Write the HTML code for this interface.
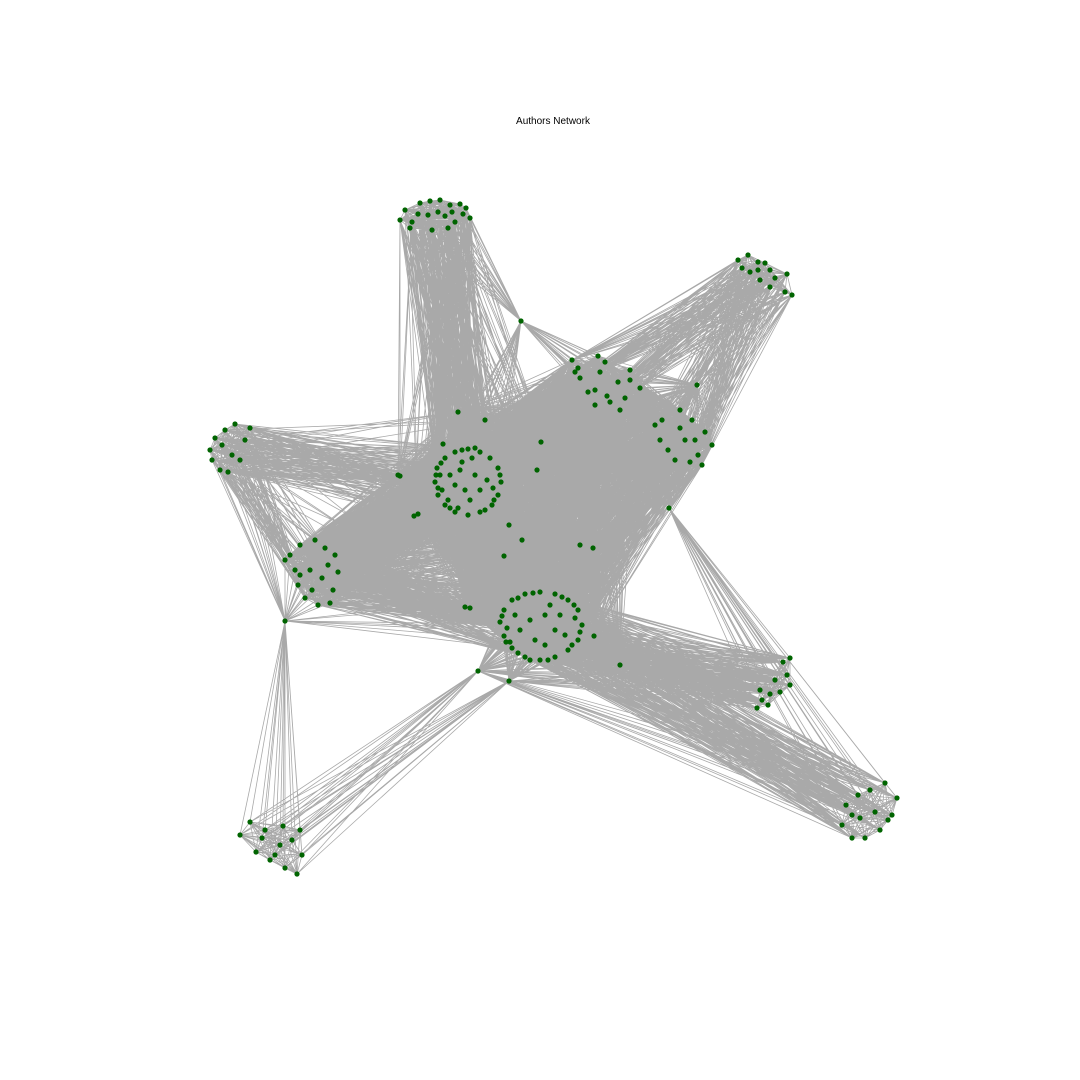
<!DOCTYPE html>
<html><head><meta charset="utf-8"><style>
html,body{margin:0;padding:0;background:#fff;}
svg{display:block;}
</style></head><body>
<svg id="chart" width="1080" height="1080" viewBox="0 0 1080 1080" xmlns="http://www.w3.org/2000/svg">
<rect x="0" y="0" width="1080" height="1080" fill="#fff"/>
<text x="553" y="124" text-anchor="middle" font-family="Liberation Sans, sans-serif" font-size="10" fill="#000">Authors Network</text>
<g id="edges"></g>
<g id="nodes"></g>
</svg>
<script>
// Layout coordinates of author nodes, grouped by community
const clusterA = [[405,210],[412,222],[420,203],[430,201],[440,200],[450,205],[460,204],[466,208],[470,218],[463,214],[455,222],[448,228],[438,212],[428,215],[418,214],[410,228],[400,220],[432,230],[445,216],[452,212]];
const clusterB = [[738,260],[748,255],[758,262],[765,263],[770,270],[787,274],[792,295],[785,292],[770,287],[760,280],[750,272],[742,268],[775,278],[758,270]];
const clusterC = [[572,360],[598,356],[605,362],[630,370],[640,388],[625,398],[610,402],[595,390],[580,378],[575,372],[600,372],[618,382],[630,380],[588,392],[607,396],[620,410],[595,405],[578,368]];
const clusterD = [[655,425],[662,420],[680,410],[692,420],[705,432],[712,445],[702,465],[690,462],[675,460],[668,450],[660,440],[685,440],[695,440],[680,428],[698,455],[697,385]];
const clusterE = [[210,450],[215,438],[220,470],[228,472],[235,424],[245,440],[240,460],[250,428],[232,455],[222,445],[212,460],[225,430]];
const clusterF = [[501,482],[498,495],[492,505],[480,512],[468,515],[455,512],[445,505],[438,495],[435,482],[437,468],[445,458],[455,452],[468,449],[480,452],[490,458],[498,468],[460,470],[475,475],[465,490],[480,490],[455,485],[470,500],[487,480],[450,475],[462,462],[448,500],[440,475],[493,488],[442,490],[472,458],[436,475],[450,508],[485,510],[500,475],[462,450],[441,463],[494,500],[458,508],[475,448],[438,488]];
const clusterG = [[290,555],[300,545],[315,540],[325,548],[335,555],[338,572],[333,590],[330,603],[318,605],[305,598],[298,585],[295,570],[285,560],[310,570],[322,578],[300,575],[328,565],[312,590]];
const clusterH = [[582,625],[578,640],[568,650],[555,657],[540,660],[525,657],[512,648],[504,636],[500,622],[504,610],[512,600],[525,594],[540,592],[555,594],[568,600],[578,610],[530,620],[545,615],[555,630],[535,640],[520,630],[560,615],[545,645],[515,615],[565,635],[550,605],[510,642],[575,618],[507,628],[580,632],[572,645],[548,660],[518,653],[502,616],[518,598],[533,593],[562,597],[574,605],[506,642],[530,660]];
const clusterI = [[790,658],[783,662],[787,675],[790,685],[780,692],[770,694],[762,700],[757,708],[760,690],[775,680],[768,705]];
const clusterJ = [[885,783],[897,798],[892,815],[880,830],[865,838],[852,838],[842,825],[846,805],[858,795],[870,790],[875,812],[860,818],[888,820],[852,815]];
const clusterK = [[240,835],[250,822],[262,838],[283,826],[300,830],[302,855],[297,874],[285,868],[270,860],[256,852],[280,845],[292,840],[265,830],[275,855]];
const hubX1 = [[521,321]];
const hubX2 = [[285,621]];
const hubX3 = [[478,671],[509,681]];
const hubX4 = [[669,508]];
const hubX = [[458,412],[443,444],[400,476],[465,607],[509,525],[537,470],[541,442],[504,556],[522,540],[580,545],[593,548],[414,516],[485,420],[620,665],[594,636],[418,514],[470,608],[398,475]];
// [communityA, communityB, sampling step]
const communityLinks = [["A","F",3],["A","X",5],["A","X1",1],["B","C",2],["B","D",2],["C","F",1],["C","D",1],["C","H",2],["C","X",1],["C","X1",1],["D","F",2],["D","H",2],["D","X",2],["D","X4",1],["E","F",4],["E","G",3],["E","X",5],["E","X2",1],["F","G",1],["F","H",1],["F","X",1],["F","X1",2],["G","H",4],["G","X",1],["G","X2",1],["H","X",1],["H","X2",6],["H","X3",1],["I","H",2],["I","X4",1],["I","X3",1],["J","H",3],["J","X4",1],["J","X3",2],["K","X3",1],["K","X2",1]];

const groups = {A:clusterA,B:clusterB,C:clusterC,D:clusterD,E:clusterE,F:clusterF,G:clusterG,H:clusterH,I:clusterI,J:clusterJ,K:clusterK,X1:hubX1,X2:hubX2,X3:hubX3,X4:hubX4,X:hubX};
const NS = "http://www.w3.org/2000/svg";
const xScale = v => v * 1080 / 1080;
const yScale = v => v * 1080 / 1080;
const edgeG = document.getElementById("edges");
const nodeG = document.getElementById("nodes");
let d = "";
function addPair(p, q){ d += "M" + xScale(p[0]).toFixed(1) + " " + yScale(p[1]).toFixed(1) + "L" + xScale(q[0]).toFixed(1) + " " + yScale(q[1]).toFixed(1); }
Object.keys(groups).forEach(k => {
  const g = groups[k];
  for (let i = 0; i < g.length; i++) for (let j = i + 1; j < g.length; j++) addPair(g[i], g[j]);
});
communityLinks.forEach(([a, b, step]) => {
  const ga = groups[a], gb = groups[b];
  let n = 0;
  ga.forEach(p => gb.forEach(q => { if (n++ % step === 0) addPair(p, q); }));
});
const path = document.createElementNS(NS, "path");
path.setAttribute("d", d);
path.setAttribute("stroke", "#a9a9a9");
path.setAttribute("stroke-width", "0.8");
path.setAttribute("fill", "none");


edgeG.appendChild(path);
Object.keys(groups).forEach(k => {
  groups[k].forEach(p => {
    const c = document.createElementNS(NS, "circle");
    c.setAttribute("cx", xScale(p[0]));
    c.setAttribute("cy", yScale(p[1]));
    c.setAttribute("r", 2.6);
    c.setAttribute("fill", "#006400");
    
    
    nodeG.appendChild(c);
  });
});
</script>
</body></html>
